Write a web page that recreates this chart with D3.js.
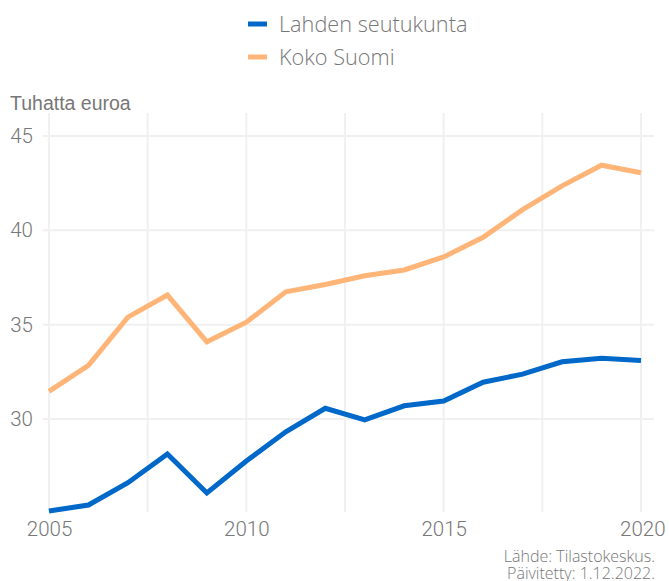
<!DOCTYPE html>
<html>
<head>
<meta charset="utf-8">
<script src="https://cdn.jsdelivr.net/npm/d3@7"></script>
<style>
  body { margin: 0; background: #fff; }
  svg { display: block; }
  .tick text { fill: #777; font-family: Roboto, "Liberation Sans", sans-serif; font-weight: 300; font-size: 20.5px; }
  .legend text, .caption { fill: #777; font-family: "Open Sans", Lato, sans-serif; font-weight: 300; }
</style>
</head>
<body>
<div id="chart"></div>
<script>
// Données
const years = [2005, 2006, 2007, 2008, 2009, 2010, 2011, 2012, 2013, 2014, 2015, 2016, 2017, 2018, 2019, 2020];
const lahti = [25.12, 25.44, 26.62, 28.15, 26.08, 27.77, 29.32, 30.57, 29.95, 30.7, 30.95, 31.95, 32.38, 33.03, 33.22, 33.1];
const suomi = [31.46, 32.84, 35.4, 36.57, 34.09, 35.13, 36.74, 37.13, 37.59, 37.9, 38.59, 39.63, 41.1, 42.36, 43.45, 43.05];
const seriesNames = ["Lahden seutukunta", "Koko Suomi"];
const colors = ["#0068c9", "#ffb578"];
const yTicks = [30, 35, 40, 45];
const xTicks = [2005, 2010, 2015, 2020];
const xGrid = [2005, 2007.5, 2010, 2012.5, 2015, 2017.5, 2020];

const width = 669, height = 581;

const svg = d3.select("#chart").append("svg")
    .attr("width", width)
    .attr("height", height);

// Échelles
const x = d3.scaleLinear()
    .domain([2005, 2020])
    .range([49, 641]);

const y = d3.scaleLinear()
    .domain([30, 45])
    .range([419, 136]);

const plotLeft = 43, plotRight = 654, plotTop = 113, plotBottom = 512;

// Grille
svg.append("g")
    .selectAll("line")
    .data(xGrid)
    .enter().append("line")
    .attr("x1", d => x(d)).attr("x2", d => x(d))
    .attr("y1", plotTop).attr("y2", plotBottom)
    .attr("stroke", "#f0f0f0")
    .attr("stroke-width", 2);

svg.append("g")
    .selectAll("line")
    .data(yTicks)
    .enter().append("line")
    .attr("x1", plotLeft).attr("x2", plotRight)
    .attr("y1", d => y(d)).attr("y2", d => y(d))
    .attr("stroke", "#f0f0f0")
    .attr("stroke-width", 2);

// Axes
const yAxis = svg.append("g")
    .attr("transform", "translate(40,0)")
    .call(d3.axisLeft(y).tickValues(yTicks).tickSize(0).tickPadding(7));
yAxis.select(".domain").remove();

const xAxis = svg.append("g")
    .attr("transform", "translate(0," + plotBottom + ")")
    .call(d3.axisBottom(x).tickValues(xTicks).tickFormat(d3.format("d")).tickSize(0).tickPadding(9));
xAxis.select(".domain").remove();
xAxis.selectAll(".tick text")
    .attr("text-anchor", d => d === 2020 ? "end" : "middle")
    .attr("dx", d => d === 2020 ? "24px" : 0);

svg.append("text")
    .attr("x", 10)
    .attr("y", 110)
    .attr("fill", "#777")
    .style("font-family", "'Liberation Sans', Arial, sans-serif")
    .style("font-size", "19.5px")
    .text("Tuhatta euroa");

// Lignes
const line = d3.line()
    .x((d, i) => x(years[i]))
    .y(d => y(d));

[lahti, suomi].forEach((s, i) => {
    svg.append("path")
        .datum(s)
        .attr("fill", "none")
        .attr("stroke", colors[i])
        .attr("stroke-width", 5)
        .attr("stroke-linejoin", "miter")
        .attr("d", line);
});

// Légende
const legend = svg.append("g").attr("class", "legend");
seriesNames.forEach((name, i) => {
    const cy = 24 + i * 33;
    legend.append("line")
        .attr("x1", 248).attr("x2", 267)
        .attr("y1", cy).attr("y2", cy)
        .attr("stroke", colors[i])
        .attr("stroke-width", 5);
    legend.append("text")
        .attr("x", 279)
        .attr("y", cy + 7.5)
        .style("font-size", "21.7px")
        .text(name);
});

// Source
svg.append("text")
    .attr("class", "caption")
    .attr("x", 655).attr("y", 562)
    .attr("text-anchor", "end")
    .style("font-size", "16px")
    .text("Lähde: Tilastokeskus.");
svg.append("text")
    .attr("class", "caption")
    .attr("x", 655).attr("y", 579)
    .attr("text-anchor", "end")
    .style("font-size", "16px")
    .text("Päivitetty: 1.12.2022.");
</script>
</body>
</html>
